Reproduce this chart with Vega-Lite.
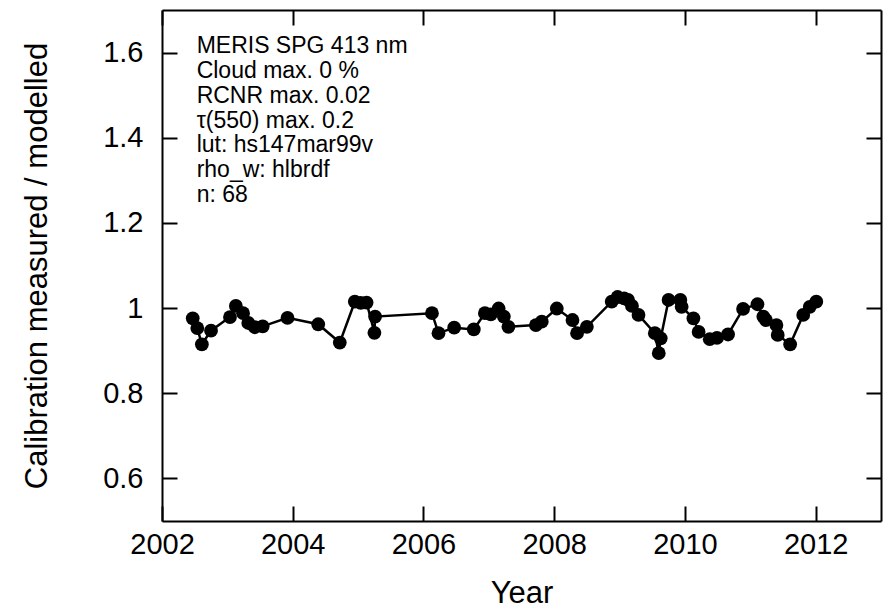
{
  "$schema": "https://vega.github.io/schema/vega-lite/v6.json",
  "width": 719,
  "height": 511,
  "autosize": {"type": "none"},
  "padding": {"left": 162, "top": 10, "right": 3, "bottom": 91},
  "background": "white",
  "config": {
    "view": {"stroke": null},
    "font": "Liberation Sans",
    "axis": {
      "domainColor": "black",
      "domainWidth": 2,
      "tickColor": "black",
      "tickWidth": 2,
      "tickSize": -15,
      "grid": false,
      "labelFont": "Liberation Sans",
      "labelFontSize": 29,
      "labelColor": "black",
      "titleFont": "Liberation Sans",
      "titleFontSize": 31,
      "titleFontWeight": "normal",
      "titleColor": "black"
    }
  },
  "data": {
    "values": [
      {"year": 2002.47, "ratio": 0.976},
      {"year": 2002.54, "ratio": 0.953},
      {"year": 2002.61, "ratio": 0.915},
      {"year": 2002.75, "ratio": 0.947},
      {"year": 2003.04, "ratio": 0.979},
      {"year": 2003.13, "ratio": 1.005},
      {"year": 2003.24, "ratio": 0.988},
      {"year": 2003.32, "ratio": 0.965},
      {"year": 2003.42, "ratio": 0.955},
      {"year": 2003.54, "ratio": 0.957},
      {"year": 2003.92, "ratio": 0.977},
      {"year": 2004.39, "ratio": 0.962},
      {"year": 2004.72, "ratio": 0.919},
      {"year": 2004.95, "ratio": 1.015},
      {"year": 2005.04, "ratio": 1.012},
      {"year": 2005.13, "ratio": 1.013},
      {"year": 2005.25, "ratio": 0.942},
      {"year": 2005.26, "ratio": 0.980},
      {"year": 2006.13, "ratio": 0.988},
      {"year": 2006.23, "ratio": 0.941},
      {"year": 2006.47, "ratio": 0.954},
      {"year": 2006.77, "ratio": 0.950},
      {"year": 2006.94, "ratio": 0.988},
      {"year": 2007.03, "ratio": 0.985},
      {"year": 2007.15, "ratio": 0.999},
      {"year": 2007.23, "ratio": 0.980},
      {"year": 2007.30, "ratio": 0.956},
      {"year": 2007.72, "ratio": 0.960},
      {"year": 2007.81, "ratio": 0.968},
      {"year": 2008.04, "ratio": 0.999},
      {"year": 2008.28, "ratio": 0.972},
      {"year": 2008.35, "ratio": 0.941},
      {"year": 2008.50, "ratio": 0.956},
      {"year": 2008.88, "ratio": 1.015},
      {"year": 2008.97, "ratio": 1.026},
      {"year": 2009.07, "ratio": 1.023},
      {"year": 2009.13, "ratio": 1.019},
      {"year": 2009.19, "ratio": 1.005},
      {"year": 2009.29, "ratio": 0.984},
      {"year": 2009.54, "ratio": 0.941},
      {"year": 2009.60, "ratio": 0.894},
      {"year": 2009.63, "ratio": 0.929},
      {"year": 2009.75, "ratio": 1.019},
      {"year": 2009.93, "ratio": 1.019},
      {"year": 2009.95, "ratio": 1.003},
      {"year": 2010.13, "ratio": 0.976},
      {"year": 2010.21, "ratio": 0.944},
      {"year": 2010.38, "ratio": 0.927},
      {"year": 2010.49, "ratio": 0.930},
      {"year": 2010.66, "ratio": 0.938},
      {"year": 2010.89, "ratio": 0.998},
      {"year": 2011.11, "ratio": 1.009},
      {"year": 2011.20, "ratio": 0.980},
      {"year": 2011.24, "ratio": 0.972},
      {"year": 2011.40, "ratio": 0.960},
      {"year": 2011.42, "ratio": 0.937},
      {"year": 2011.61, "ratio": 0.915},
      {"year": 2011.81, "ratio": 0.984},
      {"year": 2011.91, "ratio": 1.003},
      {"year": 2012.01, "ratio": 1.015}
    ]
  },
  "layer": [
    {
      "layer": [
        {
          "mark": {"type": "line", "color": "black", "strokeWidth": 2.5},
          "encoding": {
            "x": {"field": "year", "type": "quantitative", "scale": {"domain": [2002, 2013], "nice": false, "zero": false},
              "axis": {"orient": "bottom", "values": [2002, 2004, 2006, 2008, 2010, 2012], "format": "d", "title": "Year", "labelPadding": 24, "titlePadding": 19, "labelFlush": false}},
            "y": {"field": "ratio", "type": "quantitative", "scale": {"domain": [0.5, 1.7], "nice": false, "zero": false},
              "axis": {"orient": "left", "values": [0.6, 0.8, 1.0, 1.2, 1.4, 1.6], "format": "~g", "title": "Calibration measured / modelled", "labelPadding": 34, "titlePadding": 49}}
          }
        },
        {
          "mark": {"type": "point", "filled": true, "color": "black", "opacity": 1, "size": 190},
          "encoding": {
            "x": {"field": "year", "type": "quantitative"},
            "y": {"field": "ratio", "type": "quantitative"}
          }
        }
      ]
    },
    {
      "data": {"values": [{"label": "info"}]},
      "mark": {"type": "text", "text": ["MERIS SPG 413 nm", "Cloud max. 0 %", "RCNR max. 0.02", "τ(550) max. 0.2", "lut: hs147mar99v", "rho_w: hlbrdf", "n: 68"], "align": "left", "baseline": "alphabetic", "fontSize": 23, "lineHeight": 24.7, "color": "black", "font": "Liberation Sans"},
      "encoding": {
        "x": {"datum": 2002.53, "type": "quantitative", "scale": {"domain": [2002, 2013], "nice": false, "zero": false},
          "axis": {"orient": "top", "values": [2002, 2004, 2006, 2008, 2010, 2012], "labels": false, "title": null}},
        "y": {"datum": 1.598, "type": "quantitative", "scale": {"domain": [0.5, 1.7], "nice": false, "zero": false},
          "axis": {"orient": "right", "values": [0.6, 0.8, 1.0, 1.2, 1.4, 1.6], "labels": false, "title": null}}
      }
    }
  ],
  "resolve": {"axis": {"x": "independent", "y": "independent"}}
}
